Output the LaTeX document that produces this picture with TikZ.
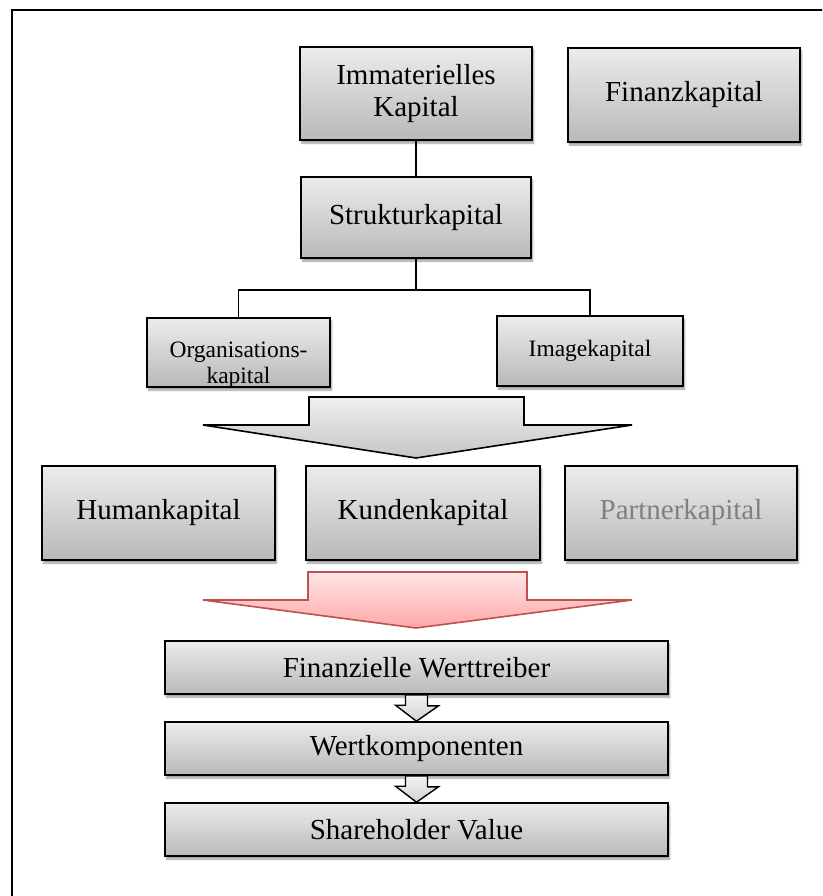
\documentclass[tikz,border=0pt]{standalone}
\usepackage{fontspec}
\setmainfont{Liberation Serif}
\usetikzlibrary{shadows.blur}
\definecolor{arrowred}{HTML}{C0504D}
\definecolor{pinktop}{HTML}{FFE6E6}
\definecolor{pinkbot}{HTML}{FFA8A8}
\begin{document}
\begin{tikzpicture}[x=1pt,y=-1pt,
  softshadow/.style={blur shadow={shadow xshift=1.5pt, shadow yshift=-3pt,
      shadow blur steps=6, shadow opacity=40}},
  box/.style={draw=black, line width=1.6pt, top color=gray!15, bottom color=gray!55,
      softshadow, inner sep=0pt, align=center, font=\fontsize{29}{32}\selectfont},
  smallbox/.style={box, font=\fontsize{23.5}{26}\selectfont},
  boxlabel/.style={inner sep=0pt, anchor=base, font=\fontsize{23.5}{26}\selectfont},
  link/.style={line width=1.6pt},
  grayarrow/.style={draw=black, line width=1.6pt, top color=gray!12, bottom color=gray!45,
      line join=miter},
  redarrow/.style={draw=arrowred, line width=1.6pt, top color=pinktop, bottom color=pinkbot,
      line join=miter},
  miniarrow/.style={draw=black, line width=1.4pt, top color=gray!10, bottom color=gray!35,
      line join=miter}]
\clip (0,0) rectangle (822,896);
\useasboundingbox (0,0) rectangle (822,896);

% outer frame
\draw[line width=2.5pt] (12,910) -- (12,10) -- (840,10);

% top row
\node[box, minimum width=232pt, minimum height=93pt] (immat) at (416,93.5)
  {Immaterielles\\Kapital};
\node[box, minimum width=232pt, minimum height=94pt] (finanz) at (684,95) {Finanzkapital};

% structural capital and its two parts
\node[box, minimum width=230pt, minimum height=81pt] (struktur) at (416,217.5) {Strukturkapital};
\node[smallbox, minimum width=183pt, minimum height=69pt] (org) at (238.5,352.5) {};
\node[smallbox, minimum width=186pt, minimum height=70pt] (image) at (590,351) {Imagekapital};
\begin{scope}
  \clip ([shift={(0.8,0.8)}]org.north west) rectangle ([shift={(-0.8,-0.8)}]org.south east);
  \node[boxlabel] (orgA) at (238.5,357) {Organisations-};
  \node[boxlabel] (orgB) at (238.5,383) {kapital};
\end{scope}

\draw[link] (immat.south) -- (struktur.north);
\coordinate (split) at (416,290);
\draw[link] (struktur.south) -- (split);
\draw[link] (org.north) |- (split) -| (image.north);

% broad grey arrow
\draw[grayarrow] (309,397) -- (524,397) -- (524,425) -- (632,425) -- (416,458)
  -- (203,425) -- (309,425) -- cycle;

% middle row
\node[box, minimum width=233pt, minimum height=94pt] (human) at (158.5,513) {Humankapital};
\node[box, minimum width=234pt, minimum height=94pt] (kunden) at (423,513) {Kundenkapital};
\node[box, minimum width=232pt, minimum height=94pt, text=black!50] (partner) at (681,513)
  {Partnerkapital};

% broad red arrow
\draw[redarrow] (308,572) -- (527,572) -- (527,600) -- (632,600) -- (416,628)
  -- (203,600) -- (308,600) -- cycle;

% value chain
\node[box, minimum width=503pt, minimum height=53pt] (fwt) at (416.5,667.5)
  {Finanzielle Werttreiber};
\node[box, minimum width=503pt, minimum height=53pt] (wk) at (416.5,748.5) {Wertkomponenten};
\node[box, minimum width=503pt, minimum height=53pt] (sv) at (416.5,829.5) {Shareholder Value};

\draw[miniarrow] ([xshift=-11pt]fwt.south) -- ([xshift=11pt]fwt.south)
  -- ++(0,11) -- ++(11,0) -- (wk.north) -- ++(-21,-16) -- ++(10,0) -- cycle;
\draw[miniarrow] ([xshift=-11pt]wk.south) -- ([xshift=11pt]wk.south)
  -- ++(0,11) -- ++(11,0) -- (sv.north) -- ++(-21,-16) -- ++(10,0) -- cycle;
\end{tikzpicture}
\end{document}
